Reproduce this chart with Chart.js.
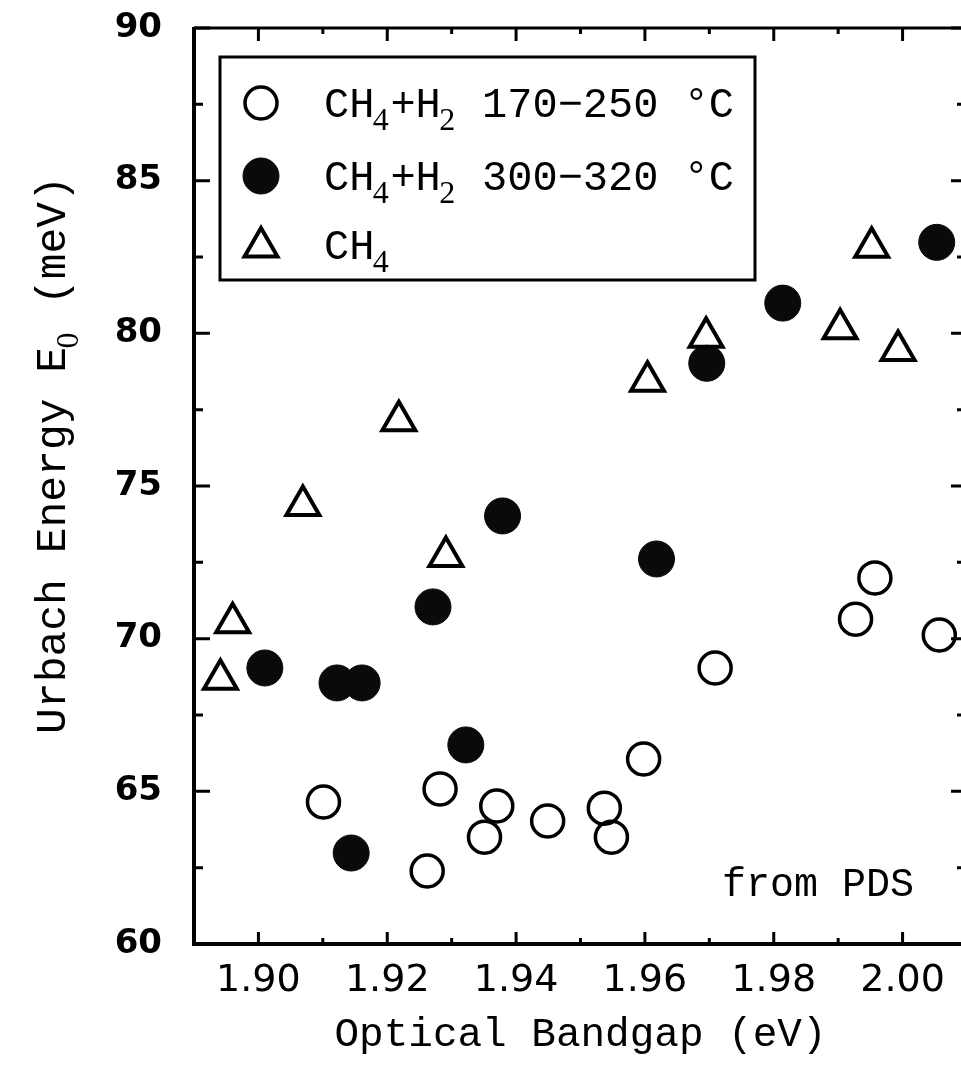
<!DOCTYPE html>
<html>
<head>
<meta charset="utf-8">
<script src="https://cdn.jsdelivr.net/npm/chart.js@4.4.0/dist/chart.umd.min.js"></script>
<style>
  html, body { margin: 0; padding: 0; background: #fff; overflow: hidden; }
</style>
</head>
<body>
<canvas id="myChart" width="990" height="1077"></canvas>
<script>
// values
const lowTempX  = [1.9101, 1.9262, 1.9282, 1.9351, 1.9370, 1.9449, 1.9537, 1.9548, 1.9598, 1.9709, 1.9927, 1.9957, 2.0057];
const lowTempY  = [64.65, 62.39, 65.08, 63.50, 64.52, 64.03, 64.45, 63.50, 66.06, 69.04, 70.64, 71.99, 70.12];

const highTempX = [1.9010, 1.9122, 1.9161, 1.9144, 1.9271, 1.9322, 1.9379, 1.9618, 1.9696, 1.9814, 2.0053];
const highTempY = [69.04, 68.55, 68.55, 62.98, 71.04, 66.52, 74.02, 72.61, 79.02, 80.99, 82.98];

const ch4X = [1.8941, 1.8960, 1.9069, 1.9218, 1.9291, 1.9604, 1.9695, 1.9903, 1.9952, 1.9993];
const ch4Y = [68.67, 70.52, 74.36, 77.14, 72.69, 78.43, 79.87, 80.15, 82.82, 79.44];

const seriesLabels = ['CH₄+H₂ 170−250 °C', 'CH₄+H₂ 300−320 °C', 'CH₄'];

const xTicks = [1.90, 1.92, 1.94, 1.96, 1.98, 2.00];
const yTicks = [60, 65, 70, 75, 80, 85, 90];

const pts = (xs, ys) => xs.map((v, i) => ({ x: v, y: ys[i] }));

const MONO = '"Liberation Mono", "DejaVu Sans Mono", monospace';
const SERIF = '"Liberation Serif", "DejaVu Serif", serif';
const SUBS = { '₀': '0', '₂': '2', '₄': '4' };

// text with subscript digits, y is the baseline; returns width
function richText(ctx, text, x, y, size, draw) {
  let cx = x;
  for (const ch of text) {
    if (SUBS[ch]) {
      ctx.font = Math.round(size * 0.75) + 'px ' + SERIF;
      if (draw) ctx.fillText(SUBS[ch], cx - size * 0.04, y + size * 0.3);
      cx += ctx.measureText(SUBS[ch]).width;
    } else {
      ctx.font = size + 'px ' + MONO;
      if (draw) ctx.fillText(ch, cx, y);
      cx += ctx.measureText(ch).width;
    }
  }
  return cx - x;
}

function marker(ctx, ds, x, y) {
  ctx.fillStyle = ds.pointBackgroundColor;
  ctx.strokeStyle = ds.pointBorderColor;
  ctx.lineWidth = ds.pointBorderWidth;
  Chart.helpers.drawPoint(ctx, { pointStyle: ds.pointStyle, radius: ds.pointRadius, borderWidth: ds.pointBorderWidth, rotation: 0 }, x, y);
}

// frame with inward ticks, legend box, notes
const extras = {
  id: 'extras',
  afterDraw(chart) {
    const { ctx, chartArea: a, scales: { x, y } } = chart;
    ctx.save();
    ctx.strokeStyle = '#000';
    ctx.lineCap = 'butt';

    ctx.lineWidth = 4;
    ctx.beginPath();
    ctx.moveTo(a.left, a.top - 1); ctx.lineTo(a.left, a.bottom); ctx.lineTo(a.right + 2, a.bottom);
    ctx.stroke();
    ctx.lineWidth = 3;
    ctx.beginPath();
    ctx.moveTo(a.left, a.top); ctx.lineTo(a.right, a.top); ctx.lineTo(a.right, a.bottom);
    ctx.stroke();

    ctx.lineWidth = 3;
    ctx.beginPath();
    xTicks.forEach((v, i) => {
      const px = x.getPixelForValue(v);
      ctx.moveTo(px, a.bottom); ctx.lineTo(px, a.bottom - 12);
      ctx.moveTo(px, a.top); ctx.lineTo(px, a.top + 13);
      if (i < xTicks.length - 1) {
        const pm = x.getPixelForValue((v + xTicks[i + 1]) / 2);
        ctx.moveTo(pm, a.bottom); ctx.lineTo(pm, a.bottom - 6);
        ctx.moveTo(pm, a.top); ctx.lineTo(pm, a.top + 6);
      }
    });
    yTicks.forEach((v, i) => {
      const py = y.getPixelForValue(v);
      ctx.moveTo(a.left, py); ctx.lineTo(a.left + 16, py);
      ctx.moveTo(a.right, py); ctx.lineTo(a.right - 16, py);
      if (i < yTicks.length - 1) {
        const pm = y.getPixelForValue((v + yTicks[i + 1]) / 2);
        ctx.moveTo(a.left, pm); ctx.lineTo(a.left + 9, pm);
        ctx.moveTo(a.right, pm); ctx.lineTo(a.right - 10, pm);
      }
    });
    ctx.stroke();

    // legend
    const lx = a.left + 26, ly = a.top + 29;
    ctx.lineWidth = 3;
    ctx.strokeRect(lx, ly, 535, 223);
    const rows = [ly + 46, ly + 119, ly + 188];
    chart.data.datasets.forEach((ds, i) => {
      marker(ctx, ds, lx + 41, rows[i] + (ds.pointStyle === 'triangle' ? 2 : 0));
      ctx.fillStyle = '#000';
      ctx.textBaseline = 'alphabetic';
      ctx.textAlign = 'left';
      richText(ctx, ds.label, lx + 104, rows[i] + 14, 42, true);
    });

    // note
    ctx.fillStyle = '#000';
    ctx.font = '40px ' + MONO;
    ctx.textAlign = 'center';
    ctx.textBaseline = 'middle';
    ctx.fillText('from PDS', a.left + 624, a.bottom - 59);

    // y axis title
    const title = 'Urbach Energy E₀ (meV)';
    ctx.textAlign = 'left';
    ctx.textBaseline = 'alphabetic';
    const w = richText(ctx, title, 0, 0, 43, false);
    ctx.translate(50, 455);
    ctx.rotate(-Math.PI / 2);
    richText(ctx, title, -w / 2, 15, 43, true);
    ctx.restore();
  }
};

const ctx = document.getElementById('myChart').getContext('2d');

const myChart = new Chart(ctx, {
  type: 'scatter',
  data: {
    datasets: [{
      label: seriesLabels[0],
      data: pts(lowTempX, lowTempY),
      pointStyle: 'circle',
      pointRadius: 16,
      pointBorderWidth: 3.5,
      pointBackgroundColor: 'rgba(255,255,255,0)',
      pointBorderColor: '#000',
      order: 3
    }, {
      label: seriesLabels[1],
      data: pts(highTempX, highTempY),
      pointStyle: 'circle',
      pointRadius: 18,
      pointBorderWidth: 1,
      pointBackgroundColor: '#0a0a0a',
      pointBorderColor: '#0a0a0a',
      order: 2
    }, {
      label: seriesLabels[2],
      data: pts(ch4X, ch4Y),
      pointStyle: 'triangle',
      pointRadius: 19,
      pointBorderWidth: 4,
      pointBackgroundColor: 'rgba(255,255,255,0)',
      pointBorderColor: '#000',
      order: 1
    }]
  },
  options: {
    responsive: false,
    animation: false,
    layout: { padding: { top: 28, right: 21, bottom: 0, left: 0 } },
    plugins: {
      legend: { display: false },
      tooltip: { enabled: false }
    },
    scales: {
      x: {
        type: 'linear',
        min: 1.89,
        max: 2.01,
        grid: { display: false, drawTicks: false },
        border: { display: false },
        afterBuildTicks: s => { s.ticks = xTicks.map(v => ({ value: v })); },
        afterFit: s => { s.height = 133; s.paddingLeft = 0; s.paddingRight = 0; },
        ticks: {
          padding: 14,
          color: '#000',
          font: { family: '"DejaVu Sans"', size: 38 },
          callback: v => v.toFixed(2)
        },
        title: {
          display: true,
          text: 'Optical Bandgap (eV)',
          color: '#000',
          font: { family: MONO, size: 41 },
          padding: { top: 0, bottom: 17 }
        }
      },
      y: {
        type: 'linear',
        min: 60,
        max: 90,
        grid: { display: false, drawTicks: false },
        border: { display: false },
        afterBuildTicks: s => { s.ticks = yTicks.map(v => ({ value: v })); },
        afterFit: s => { s.width = 194; s.paddingTop = 0; s.paddingBottom = 0; },
        ticks: {
          padding: 32,
          color: '#000',
          font: { family: '"DejaVu Sans"', size: 34, weight: 'bold' }
        }
      }
    }
  },
  plugins: [extras]
});
</script>
</body>
</html>
